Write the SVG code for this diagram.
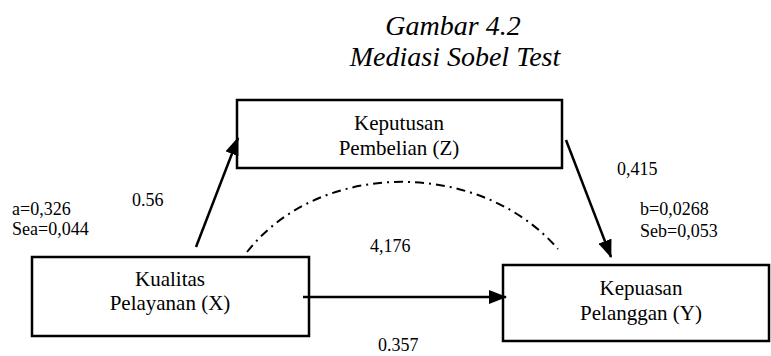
<svg xmlns="http://www.w3.org/2000/svg" width="771" height="356" viewBox="0 0 771 356">
<style>
text{font-family:'Liberation Serif','DejaVu Serif',serif;fill:#000}
.title{font-size:28px;font-style:italic;text-anchor:middle}
.node{font-size:21px;text-anchor:middle}
.lbl{font-size:18px}
.box{fill:#fff;stroke:#000;stroke-width:2.5}
.arr{stroke:#000;stroke-width:2.5;fill:none;marker-end:url(#ah)}
.dd{stroke:#000;stroke-width:2;fill:none;stroke-dasharray:9 5 2 5}
</style>
<defs>
<marker id="ah" markerUnits="userSpaceOnUse" markerWidth="18" markerHeight="14" refX="17" refY="7" orient="auto">
<path d="M0,0 L18,7 L0,14 Z" fill="#000"/>
</marker>
</defs>
<rect width="771" height="356" fill="#fff"/>
<g font-family="Liberation Serif, DejaVu Serif, serif">
<text class="title" x="453" y="35">Gambar 4.2</text>
<text class="title" x="455" y="66">Mediasi Sobel Test</text>
<g id="node-z">
<rect class="box" x="237" y="100" width="325" height="68"/>
<text class="node" x="399" y="130">Keputusan</text>
<text class="node" x="399" y="155">Pembelian (Z)</text>
</g>
<g id="node-x">
<rect class="box" x="32" y="257" width="277" height="79"/>
<text class="node" x="170" y="286">Kualitas</text>
<text class="node" x="170" y="310">Pelayanan (X)</text>
</g>
<g id="node-y">
<rect class="box" x="503" y="265" width="266" height="76"/>
<text class="node" x="641" y="295">Kepuasan</text>
<text class="node" x="641" y="320">Pelanggan (Y)</text>
</g>
<g id="connectors">
<line class="arr" x1="196" y1="247" x2="238" y2="138"/>
<line class="arr" x1="566" y1="140" x2="611" y2="257"/>
<line class="arr" x1="303" y1="297" x2="506" y2="297"/>
<path class="dd" d="M247,252 C320,159 480,159 558,249"/>
</g>
<g id="labels">
<text class="lbl" x="12" y="215">a=0,326</text>
<text class="lbl" x="12" y="235">Sea=0,044</text>
<text class="lbl" x="132" y="206">0.56</text>
<text class="lbl" x="370" y="252">4,176</text>
<text class="lbl" x="617" y="175">0,415</text>
<text class="lbl" x="640" y="215">b=0,0268</text>
<text class="lbl" x="640" y="237">Seb=0,053</text>
<text class="lbl" x="378" y="351">0.357</text>
</g>
</g>
</svg>
